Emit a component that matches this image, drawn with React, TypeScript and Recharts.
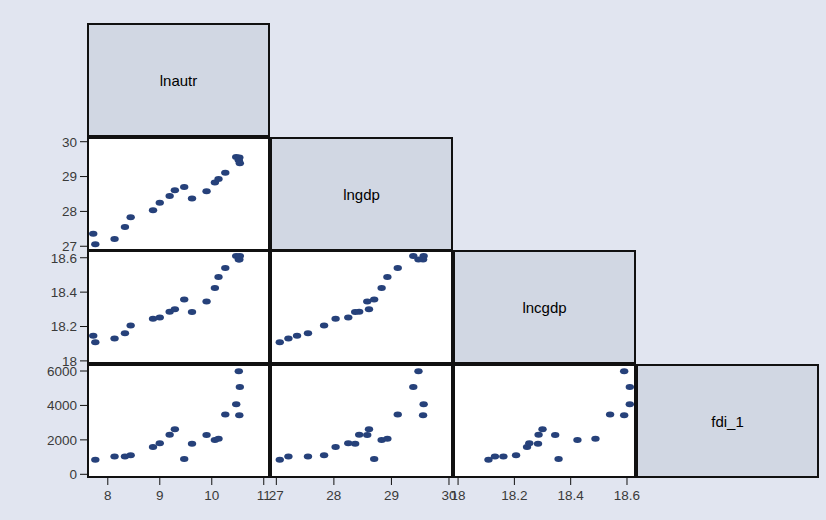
import React from "react";
import { ScatterChart, Scatter, XAxis, YAxis } from "recharts";

// one value per year; fdi_1 is lagged so the first year has none
const lnautr = [7.72, 7.76, 8.13, 8.33, 8.44, 8.87, 9.0, 9.19, 9.29, 9.47, 9.62, 9.9, 10.06, 10.13, 10.26, 10.47, 10.53, 10.52, 10.54];
const lngdp = [27.36, 27.06, 27.21, 27.55, 27.83, 28.03, 28.25, 28.44, 28.61, 28.7, 28.37, 28.58, 28.83, 28.93, 29.11, 29.56, 29.55, 29.47, 29.38];
const lncgdp = [18.147, 18.108, 18.131, 18.161, 18.206, 18.245, 18.253, 18.286, 18.3, 18.357, 18.284, 18.345, 18.424, 18.488, 18.54, 18.61, 18.59, 18.59, 18.61];
const fdi_1 = [null, 848, 1030, 1040, 1100, 1590, 1800, 2300, 2610, 890, 1780, 2280, 1990, 2070, 3480, 4070, 3430, 5990, 5070];

const varNames = ["lnautr", "lngdp", "lncgdp", "fdi_1"];

const lnautrTicks = [8, 9, 10, 11];
const lngdpTicks = [27, 28, 29, 30];
const lncgdpTicks = [18, 18.2, 18.4, 18.6];
const fdiTicks = [0, 2000, 4000, 6000];

const ticks: Record<string, number[]> = {
  lnautr: lnautrTicks,
  lngdp: lngdpTicks,
  lncgdp: lncgdpTicks,
  fdi_1: fdiTicks,
};

const xDomains: Record<string, [number, number]> = {
  lnautr: [7.6, 11.12],
  lngdp: [26.89, 30.07],
  lncgdp: [17.982, 18.632],
};
const yDomains: Record<string, [number, number]> = {
  lngdp: [26.864, 30.135],
  lncgdp: [17.982, 18.645],
  fdi_1: [-215, 6407],
};

const rows = lnautr.map((v, i) => ({
  lnautr: v,
  lngdp: lngdp[i],
  lncgdp: lncgdp[i],
  fdi_1: fdi_1[i],
}));

const colX = [87, 270, 453, 636];
const rowY = [23, 137, 250, 364];
const CW = 183;
const CH = 114;
const AXW = 46;
const AXH = 34;
const DOT = "#26417a";

const tickStyle = { fontSize: 13.5, fill: "#3a3a3a", fontFamily: "Liberation Sans, Arial, sans-serif" };

const Dot = (props: any) => {
  if (props.cx == null || props.cy == null) return null;
  return <ellipse cx={props.cx} cy={props.cy} rx={4.2} ry={3} fill={DOT} />;
};

function Diagonal({ i }: { i: number }) {
  return (
    <div
      style={{
        position: "absolute",
        left: colX[i],
        top: rowY[i],
        width: CW,
        height: CH,
        boxSizing: "border-box",
        border: "2px solid #111",
        background: "#d1d7e3",
        display: "flex",
        alignItems: "center",
        justifyContent: "center",
        fontFamily: "Liberation Sans, Arial, sans-serif",
        fontSize: 15,
        color: "#000",
      }}
    >
      {varNames[i]}
    </div>
  );
}

function Cell({ r, c }: { r: number; c: number }) {
  const xKey = varNames[c];
  const yKey = varNames[r];
  const leftAxis = c === 0;
  const bottomAxis = r === 3;
  const data = rows.filter((d: any) => d[xKey] != null && d[yKey] != null);
  const w = CW + (leftAxis ? AXW : 0);
  const h = CH + (bottomAxis ? AXH : 0);
  return (
    <>
      <div
        style={{
          position: "absolute",
          left: colX[c],
          top: rowY[r],
          width: CW,
          height: CH,
          boxSizing: "border-box",
          border: "2px solid #111",
          background: "#fff",
        }}
      />
      <div style={{ position: "absolute", left: colX[c] - (leftAxis ? AXW : 0), top: rowY[r] }}>
        <ScatterChart width={w} height={h} margin={{ top: 0, right: 0, bottom: 0, left: 0 }}>
          <XAxis
            type="number"
            dataKey={xKey}
            domain={xDomains[xKey]}
            ticks={ticks[xKey]}
            allowDataOverflow
            interval={0}
            hide={!bottomAxis}
            height={AXH}
            axisLine={false}
            tickLine={{ stroke: "#111" }}
            tickSize={7}
            tickMargin={5}
            tick={tickStyle}
          />
          <YAxis
            type="number"
            dataKey={yKey}
            domain={yDomains[yKey]}
            ticks={ticks[yKey]}
            allowDataOverflow
            interval={0}
            hide={!leftAxis}
            width={AXW}
            axisLine={false}
            tickLine={{ stroke: "#111" }}
            tickSize={7}
            tickMargin={3}
            tick={tickStyle}
          />
          <Scatter data={data} fill={DOT} shape={<Dot />} isAnimationActive={false} />
        </ScatterChart>
      </div>
    </>
  );
}

export default function App() {
  const cells: React.ReactNode[] = [];
  for (let r = 0; r < 4; r++) {
    for (let c = 0; c < r; c++) {
      cells.push(<Cell key={`${r}-${c}`} r={r} c={c} />);
    }
  }
  return (
    <div
      style={{
        position: "absolute",
        left: 0,
        top: 0,
        width: 826,
        height: 520,
        background: "#e1e5f0",
        overflow: "hidden",
      }}
    >
      <style>{".recharts-wrapper, .recharts-surface { overflow: visible !important; }"}</style>
      {[0, 1, 2, 3].map((i) => (
        <Diagonal key={i} i={i} />
      ))}
      {cells}
    </div>
  );
}
